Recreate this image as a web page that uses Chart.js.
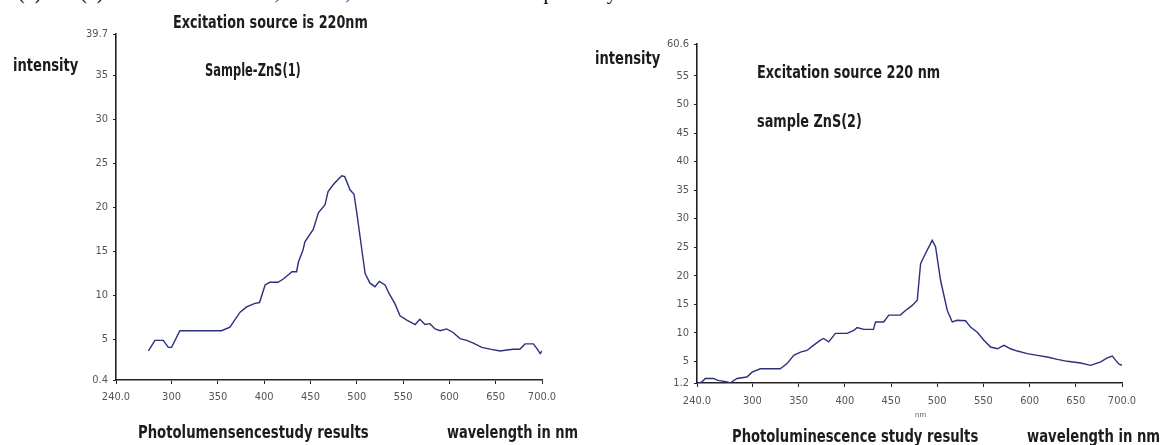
<!DOCTYPE html>
<html>
<head>
<meta charset="utf-8">
<script src="https://cdn.jsdelivr.net/npm/chart.js@4.4.1/dist/chart.umd.min.js"></script>
<style>
  html, body { margin: 0; padding: 0; background: #fff; }
  #page { position: relative; width: 1162px; height: 445px; overflow: hidden; }
  canvas { position: absolute; top: 0; }
  .lbl { position: absolute; white-space: nowrap; font-family: "Liberation Sans Narrow", "DejaVu Sans Condensed", sans-serif;
         font-weight: bold; font-size: 17px; line-height: 1; color: #1c1c1c; transform-origin: left center; }
  .top { position: absolute; left: 18px; top: -19px; white-space: nowrap; font-family: "Liberation Serif", serif; font-size: 20px; color: #000; }
  .nm { position: absolute; left: 915px; top: 410px; font-family: "Liberation Sans", sans-serif; font-size: 8px; color: #666; }
</style>
</head>
<body>
<div id="page">
  <div class="top">(5) and (6). Peaks are at 360 nm, 485 nm, 495 nm and 500 nm respectively.</div>
  <canvas id="c1" width="580" height="445" style="left:0"></canvas>
  <canvas id="c2" width="582" height="445" style="left:580px"></canvas>

  <div class="lbl" data-w="195" style="left:173px; top:14px">Excitation source is 220nm</div>
  <div class="lbl" data-w="65" style="left:13px; top:57px">intensity</div>
  <div class="lbl" data-w="96" style="left:205px; top:62px">Sample-ZnS(1)</div>
  <div class="lbl" data-w="231" style="left:138px; top:424px">Photolumensencestudy results</div>
  <div class="lbl" data-w="131" style="left:447px; top:424px">wavelength in nm</div>

  <div class="lbl" data-w="65" style="left:595px; top:50px">intensity</div>
  <div class="lbl" data-w="183" style="left:757px; top:64px">Excitation source 220 nm</div>
  <div class="lbl" data-w="105" style="left:757px; top:113px">sample ZnS(2)</div>
  <div class="lbl" data-w="246" style="left:732px; top:428px">Photoluminescence study results</div>
  <div class="lbl" data-w="133" style="left:1027px; top:428px">wavelength in nm</div>
  <div class="nm">nm</div>
</div>
<script>
// x ticks shared by both panels
const xTicks = [240, 300, 350, 400, 450, 500, 550, 600, 650, 700];
const yTicks1 = [0.4, 5, 10, 15, 20, 25, 30, 35, 39.7];
const yTicks2 = [1.2, 5, 10, 15, 20, 25, 30, 35, 40, 45, 50, 55, 60.6];

// Sample ZnS(1)
const wave1 = [275, 282, 291, 296.5, 300, 309, 354, 363, 374, 381, 390, 395, 401, 406, 415, 421, 430, 435, 437, 442, 444,
  453, 458.5, 465.7, 469, 474.7, 480, 483.7, 487, 492.7, 497, 500, 503.5, 509, 514.3, 519.7, 524.3, 530.5, 535, 541,
  546.7, 554, 563, 568, 573.7, 579, 584.5, 590, 597, 604, 611.5, 618.7, 625.9, 635, 644, 654.7, 662, 669, 676, 681.7,
  690.6, 695, 698, 700];
const inten1 = [3.7, 4.9, 4.9, 4.1, 4.1, 6.0, 6.0, 6.4, 8.1, 8.7, 9.1, 9.2, 11.2, 11.5, 11.5, 11.9, 12.7, 12.7, 13.8, 15.2, 16.1,
  17.5, 19.4, 20.3, 21.8, 22.6, 23.2, 23.6, 23.5, 22.0, 21.5, 19.4, 16.7, 12.5, 11.4, 11.0, 11.6, 11.2, 10.2, 9.1,
  7.7, 7.2, 6.7, 7.3, 6.7, 6.8, 6.2, 6.0, 6.2, 5.8, 5.1, 4.9, 4.6, 4.1, 3.9, 3.7, 3.8, 3.9, 3.9, 4.5,
  4.5, 3.9, 3.4, 3.7];

// sample ZnS(2)
const wave2 = [240, 245.4, 249, 258, 261.7, 272.5, 275.8, 283.3, 294, 299.6, 308.6, 330, 337.5, 344.7, 352, 359, 366,
  373.6, 377, 382.6, 389.8, 402.5, 409.7, 413.3, 420.5, 431, 433.2, 442, 447.6, 460, 465.7, 473, 478.4, 482, 487.3,
  494.6, 498.2, 503.6, 510.9, 516.3, 521.7, 530.7, 536, 543.4, 550.5, 557.8, 565, 572.2, 579.4, 586.7, 597.5, 608.4,
  619, 630, 640.9, 655.3, 666, 671.5, 677, 684, 689.6, 693, 696.8, 700];
const inten2 = [1.1, 1.4, 2.0, 2.0, 1.7, 1.4, 1.2, 2.0, 2.25, 3.1, 3.7, 3.7, 4.6, 6.05, 6.6, 6.9, 7.8,
  8.7, 9.0, 8.4, 9.9, 9.9, 10.4, 10.9, 10.6, 10.6, 11.9, 11.9, 13.1, 13.1, 13.9, 14.8, 15.7, 22.1, 23.9,
  26.2, 25.1, 19.2, 13.9, 11.9, 12.2, 12.1, 11.0, 10.1, 8.7, 7.5, 7.2, 7.8, 7.2, 6.8, 6.35, 6.05,
  5.75, 5.35, 5.0, 4.7, 4.3, 4.6, 4.9, 5.6, 5.9, 5.2, 4.5, 4.3];

const lineColor = "#2c2f7c";
const tickFont = { family: "'Liberation Sans Narrow', 'DejaVu Sans Condensed', sans-serif", size: 11 };

function makeChart(id, xs, ys, yMin, yMax, yTicks, pad, xPad) {
  const ctx = document.getElementById(id).getContext("2d");
  return new Chart(ctx, {
    type: "scatter",
    data: {
      datasets: [{
        data: xs.map((x, i) => ({ x: x, y: ys[i] })),
        showLine: true,
        borderColor: lineColor,
        borderWidth: 1.4,
        pointRadius: 0,
        tension: 0
      }]
    },
    options: {
      responsive: false,
      animation: false,
      devicePixelRatio: 1,
      layout: { padding: pad },
      plugins: { legend: { display: false }, tooltip: { enabled: false } },
      scales: {
        x: {
          type: "linear", min: 240, max: 700,
          afterBuildTicks: s => { s.ticks = xTicks.map(v => ({ value: v })); },
          afterFit: s => { s.height = 30; },
          ticks: {
            color: "#555", font: tickFont, padding: xPad, maxRotation: 0, autoSkip: false,
            callback: v => (v === 240 || v === 700) ? v.toFixed(1) : String(v)
          },
          grid: { drawOnChartArea: false, drawTicks: true, tickLength: 4, color: "#222" },
          border: { color: "#222", width: 1.6 }
        },
        y: {
          type: "linear", min: yMin, max: yMax,
          afterBuildTicks: s => { s.ticks = yTicks.map(v => ({ value: v })); },
          afterFit: s => { s.width = 116; },
          ticks: { color: "#555", font: tickFont, padding: 5, autoSkip: false, callback: v => String(v) },
          grid: { drawOnChartArea: false, drawTicks: true, tickLength: 3, color: "#222" },
          border: { color: "#222", width: 1.6 }
        }
      }
    }
  });
}

makeChart("c1", wave1, inten1, 0.4, 39.7, yTicks1, { left: 0, top: 34, right: 38, bottom: 35 }, 7);
makeChart("c2", wave2, inten2, 1.2, 60.6, yTicks2, { left: 1, top: 44, right: 40, bottom: 32 }, 8);

// squeeze annotation labels to the widths seen in the picture
document.querySelectorAll(".lbl").forEach(el => {
  const w = Number(el.dataset.w);
  el.style.transform = "scaleX(" + (w / el.offsetWidth).toFixed(3) + ")";
});
</script>
</body>
</html>
